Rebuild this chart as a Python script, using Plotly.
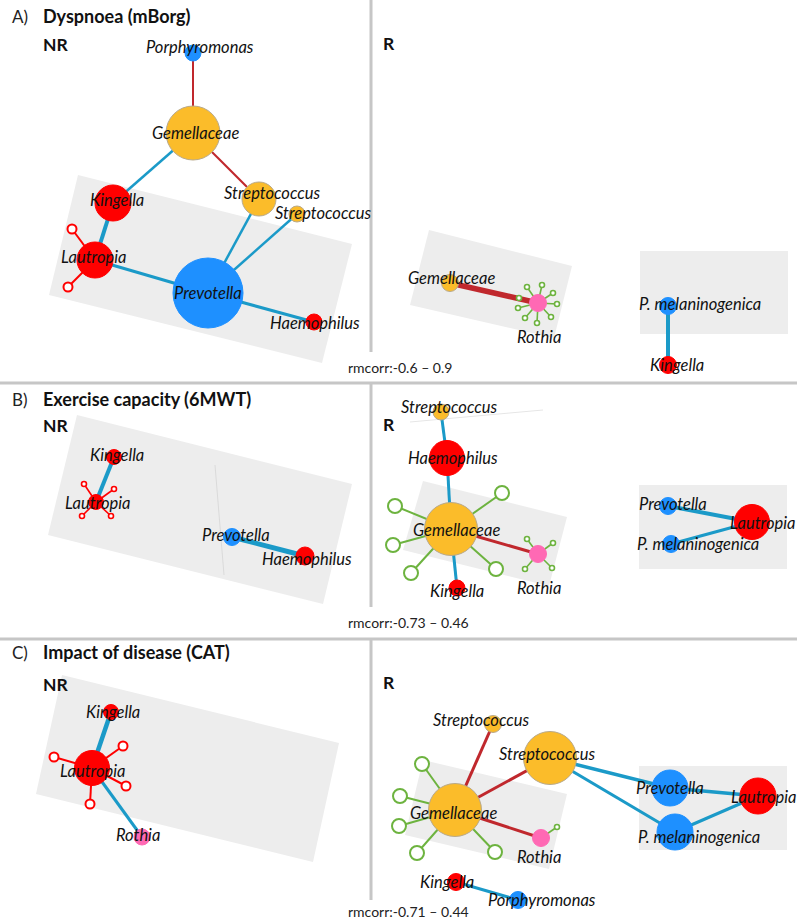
import plotly.graph_objects as go

# ---------------- colours by taxon ----------------
TAXON_COLOR = {
    "Porphyromonas": "#1E90FF", "Prevotella": "#1E90FF", "P. melaninogenica": "#1E90FF",
    "Gemellaceae": "#FBBC2A", "Streptococcus": "#FBBC2A",
    "Kingella": "#FF0000", "Lautropia": "#FF0000", "Haemophilus": "#FF0000",
    "Rothia": "#FF69B4",
}
EDGE_COLOR = {"pos": "#1B9AC8", "neg": "#C0282D"}
GREEN = "#6DB33F"
RED = "#FF0000"

# ---------------- panel titles ----------------
panel_letters = ["A)", "B)", "C)"]
panel_titles = ["Dyspnoea (mBorg)", "Exercise capacity (6MWT)", "Impact of disease (CAT)"]
panel_title_y = [16, 399, 652]
nr_label_y = [44, 425, 684]
r_label_y = [43, 424, 682]
rmcorr_texts = ["rmcorr:-0.6 \u2013 0.9", "rmcorr:-0.73 \u2013 0.46", "rmcorr:-0.71 \u2013 0.44"]
rmcorr_y = [367, 622, 911]

# ---------------- networks ----------------
# A - NR
A_NR_names = ["Porphyromonas", "Gemellaceae", "Streptococcus", "Streptococcus", "Kingella", "Lautropia", "Prevotella", "Haemophilus"]
A_NR_x = [193, 193, 259, 297, 113, 95, 208, 314]
A_NR_y = [53, 133, 199, 214, 203, 260, 293, 322]
A_NR_size = [16, 54, 34, 16, 36, 36, 70, 16]
A_NR_lx = [200, 195, 272, 323, 117, 93, 208, 315]
A_NR_ly = [47, 133, 193, 213, 200, 257, 293, 323]
A_NR_src = [0, 1, 1, 4, 5, 6, 6, 6]
A_NR_dst = [1, 4, 2, 5, 6, 2, 3, 7]
A_NR_sign = ["neg", "pos", "neg", "pos", "pos", "pos", "pos", "pos"]
A_NR_w = [2, 2.5, 2, 4, 3, 2.5, 2.5, 3]
A_NR_sat_parent = [5, 5]
A_NR_sat_x = [72, 68]
A_NR_sat_y = [229, 287]

# A - R
A_R_names = ["Gemellaceae", "Rothia", "P. melaninogenica", "Kingella"]
A_R_x = [450, 538, 668, 668]
A_R_y = [283, 303, 306, 365]
A_R_size = [17, 17, 17, 17]
A_R_lx = [451, 539, 700, 677]
A_R_ly = [278, 337, 304, 365]
A_R_src = [0, 2]
A_R_dst = [1, 3]
A_R_sign = ["neg", "pos"]
A_R_w = [5.5, 4]
A_R_sat_parent = [1, 1, 1, 1, 1, 1, 1, 1, 1]
A_R_sat_x = [542, 553, 557, 551, 537, 525, 518, 519, 527]
A_R_sat_y = [285, 293, 304, 317, 323, 318, 308, 298, 287]

# B - NR
B_NR_names = ["Kingella", "Lautropia", "Prevotella", "Haemophilus"]
B_NR_x = [114, 96, 232, 305]
B_NR_y = [457, 502, 537, 556]
B_NR_size = [15, 15, 17, 18]
B_NR_lx = [117, 97, 236, 307]
B_NR_ly = [455, 503, 535, 559]
B_NR_src = [0, 2]
B_NR_dst = [1, 3]
B_NR_sign = ["pos", "pos"]
B_NR_w = [4, 5]
B_NR_sat_parent = [1, 1, 1, 1]
B_NR_sat_x = [84, 114, 82, 111]
B_NR_sat_y = [484, 489, 516, 516]

# B - R
B_R_names = ["Streptococcus", "Haemophilus", "Gemellaceae", "Kingella", "Rothia", "Prevotella", "P. melaninogenica", "Lautropia"]
B_R_x = [441, 447, 451, 457, 538, 668, 671, 752]
B_R_y = [412, 458, 529, 588, 554, 506, 544, 522]
B_R_size = [16, 35, 53, 16, 17, 17, 17, 35]
B_R_lx = [449, 453, 456, 457, 539, 673, 698, 762]
B_R_ly = [407, 458, 530, 591, 588, 504, 544, 523]
B_R_src = [0, 1, 2, 2, 5, 6]
B_R_dst = [1, 2, 3, 4, 7, 7]
B_R_sign = ["pos", "pos", "pos", "neg", "pos", "pos"]
B_R_w = [3, 3, 3, 3, 4, 3]
B_R_sat_parent = [2, 2, 2, 2, 2, 4, 4, 4, 4]
B_R_sat_x = [502, 395, 393, 411, 496, 527, 553, 525, 552]
B_R_sat_y = [493, 506, 545, 573, 569, 539, 543, 569, 568]

# C - NR
C_NR_names = ["Kingella", "Lautropia", "Rothia"]
C_NR_x = [111, 92, 142]
C_NR_y = [712, 768, 837]
C_NR_size = [15, 35, 16]
C_NR_lx = [113, 92, 138]
C_NR_ly = [712, 771, 835]
C_NR_src = [0, 1]
C_NR_dst = [1, 2]
C_NR_sign = ["pos", "pos"]
C_NR_w = [4.5, 3]
C_NR_sat_parent = [1, 1, 1, 1]
C_NR_sat_x = [54, 123, 126, 90]
C_NR_sat_y = [757, 746, 786, 804]

# C - R
C_R_names = ["Streptococcus", "Streptococcus", "Gemellaceae", "Rothia", "Prevotella", "P. melaninogenica", "Lautropia", "Kingella", "Porphyromonas"]
C_R_x = [493, 550, 455, 541, 670, 675, 758, 456, 518]
C_R_y = [724, 758, 810, 838, 788, 832, 796, 882, 900]
C_R_size = [17, 53, 53, 17, 36, 36, 36, 17, 17]
C_R_lx = [481, 547, 453, 539, 670, 699, 763, 447, 542]
C_R_ly = [720, 754, 813, 857, 788, 837, 797, 882, 900]
C_R_src = [2, 2, 2, 1, 1, 4, 5, 7]
C_R_dst = [0, 1, 3, 4, 5, 6, 6, 8]
C_R_sign = ["neg", "neg", "neg", "pos", "pos", "pos", "pos", "pos"]
C_R_w = [3, 3, 3, 3.5, 3, 3.5, 3, 3]
C_R_sat_parent = [2, 2, 2, 2, 2, 3]
C_R_sat_x = [422, 400, 399, 417, 495, 557]
C_R_sat_y = [764, 796, 826, 853, 852, 827]

# gray module boxes (corner lists)
box_corners = [
    [(78, 175), (352, 244), (322, 363), (49, 295)],
    [(429, 230), (572, 266), (554, 338), (410, 305)],
    [(640, 251), (788, 251), (788, 334), (640, 334)],
    [(77, 415), (352, 484), (323, 604), (48, 535)],
    [(423, 481), (567, 517), (549, 586), (403, 550)],
    [(639, 485), (787, 485), (787, 569), (639, 569)],
    [(62, 675), (339, 743), (313, 862), (36, 794)],
    [(423, 760), (567, 794), (549, 869), (405, 835)],
    [(639, 766), (787, 766), (787, 850), (639, 850)],
]

networks = [
    (A_NR_names, A_NR_x, A_NR_y, A_NR_size, A_NR_lx, A_NR_ly, A_NR_src, A_NR_dst, A_NR_sign, A_NR_w, A_NR_sat_parent, A_NR_sat_x, A_NR_sat_y),
    (A_R_names, A_R_x, A_R_y, A_R_size, A_R_lx, A_R_ly, A_R_src, A_R_dst, A_R_sign, A_R_w, A_R_sat_parent, A_R_sat_x, A_R_sat_y),
    (B_NR_names, B_NR_x, B_NR_y, B_NR_size, B_NR_lx, B_NR_ly, B_NR_src, B_NR_dst, B_NR_sign, B_NR_w, B_NR_sat_parent, B_NR_sat_x, B_NR_sat_y),
    (B_R_names, B_R_x, B_R_y, B_R_size, B_R_lx, B_R_ly, B_R_src, B_R_dst, B_R_sign, B_R_w, B_R_sat_parent, B_R_sat_x, B_R_sat_y),
    (C_NR_names, C_NR_x, C_NR_y, C_NR_size, C_NR_lx, C_NR_ly, C_NR_src, C_NR_dst, C_NR_sign, C_NR_w, C_NR_sat_parent, C_NR_sat_x, C_NR_sat_y),
    (C_R_names, C_R_x, C_R_y, C_R_size, C_R_lx, C_R_ly, C_R_src, C_R_dst, C_R_sign, C_R_w, C_R_sat_parent, C_R_sat_x, C_R_sat_y),
]

FONT = "Lato"
fig = go.Figure()
shapes = []
annotations = []

for corners in box_corners:
    path = "M " + " L ".join(f"{x},{y}" for x, y in corners) + " Z"
    shapes.append(dict(type="path", path=path, fillcolor="#EDEDED", line=dict(width=0), layer="below"))

# faint guide lines
shapes.append(dict(type="line", x0=215, y0=465, x1=224, y1=575, line=dict(color="#DADADA", width=1), layer="below"))
shapes.append(dict(type="line", x0=410, y0=422, x1=543, y1=410, line=dict(color="#E6E6E6", width=1), layer="below"))

# dividers
DIV = "#C6C6C6"
for y0, y1 in [(0, 352), (383, 607), (639, 900)]:
    shapes.append(dict(type="line", x0=371, x1=371, y0=y0, y1=y1, line=dict(color=DIV, width=3)))
for y in [383, 639]:
    shapes.append(dict(type="line", x0=0, x1=797, y0=y, y1=y, line=dict(color=DIV, width=3)))

for (names, xs, ys, sizes, lxs, lys, src, dst, sign, w, sp, sx, sy) in networks:
    # satellites: lines
    for p, x, y in zip(sp, sx, sy):
        col = GREEN if names[p] in ("Gemellaceae", "Rothia") else RED
        big = sizes[p] > 30
        fig.add_trace(go.Scatter(x=[xs[p], x], y=[ys[p], y], mode="lines",
                                 line=dict(color=col, width=2 if big else 1.6),
                                 hoverinfo="skip", showlegend=False))
    # edges
    for s, d, sg, ww in zip(src, dst, sign, w):
        fig.add_trace(go.Scatter(x=[xs[s], xs[d]], y=[ys[s], ys[d]], mode="lines",
                                 line=dict(color=EDGE_COLOR[sg], width=ww),
                                 hoverinfo="skip", showlegend=False))
    # satellite circles
    for p, x, y in zip(sp, sx, sy):
        col = GREEN if names[p] in ("Gemellaceae", "Rothia") else RED
        if col == GREEN:
            sz = 14 if names[p] == "Gemellaceae" else 5
        else:
            sz = 9 if (sizes[p] > 30) else 5
        fig.add_trace(go.Scatter(x=[x], y=[y], mode="markers",
                                 marker=dict(size=sz, color="white", line=dict(color=col, width=2 if sz > 6 else 1.6)),
                                 hoverinfo="skip", showlegend=False))
    # nodes
    cols = [TAXON_COLOR[n] for n in names]
    outl = ["#B8A98A" if c == "#FBBC2A" else c for c in cols]
    fig.add_trace(go.Scatter(x=xs, y=ys, mode="markers",
                             marker=dict(size=sizes, color=cols, line=dict(color=outl, width=1), opacity=1),
                             hoverinfo="skip", showlegend=False))
    for n, lx, ly in zip(names, lxs, lys):
        annotations.append(dict(x=lx, y=ly, text=f"<i>{n}</i>", showarrow=False,
                                xanchor="center", yanchor="middle",
                                font=dict(family=FONT, size=16.5, color="#111111")))

for letter, title, ty, nry, ry, rt, rty in zip(panel_letters, panel_titles, panel_title_y, nr_label_y, r_label_y, rmcorr_texts, rmcorr_y):
    annotations.append(dict(x=10, y=ty, text=letter, showarrow=False, xanchor="left", yanchor="middle",
                            font=dict(family=FONT, size=17, color="#222222")))
    annotations.append(dict(x=41, y=ty, text=f"<b>{title}</b>", showarrow=False, xanchor="left", yanchor="middle",
                            font=dict(family=FONT, size=18, color="#111111")))
    annotations.append(dict(x=41, y=nry, text="<b>NR</b>", showarrow=False, xanchor="left", yanchor="middle",
                            font=dict(family=FONT, size=17.5, color="#111111")))
    annotations.append(dict(x=381, y=ry, text="<b>R</b>", showarrow=False, xanchor="left", yanchor="middle",
                            font=dict(family=FONT, size=17.5, color="#111111")))
    annotations.append(dict(x=346, y=rty, text=rt, showarrow=False, xanchor="left", yanchor="middle",
                            font=dict(family=FONT, size=14, color="#222222")))

fig.update_layout(
    width=797, height=921,
    margin=dict(l=0, r=0, t=0, b=0),
    paper_bgcolor="white", plot_bgcolor="white",
    xaxis=dict(range=[0, 797], visible=False, fixedrange=True),
    yaxis=dict(range=[921, 0], visible=False, fixedrange=True),
    shapes=shapes, annotations=annotations,
    showlegend=False,
)
fig.write_html("out.html", config={"displayModeBar": False},
               post_script="document.body.style.margin='0';document.body.style.padding='0';document.body.style.overflow='hidden';")
